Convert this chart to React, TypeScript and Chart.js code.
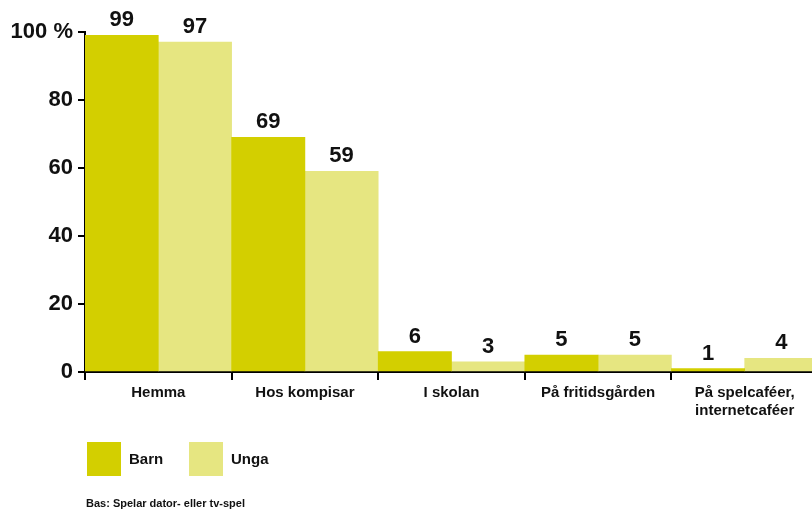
import React, { useEffect, useRef } from "react";
import { Chart, registerables } from "chart.js";

Chart.register(...registerables);

const categories: (string | string[])[] = [
  "Hemma",
  "Hos kompisar",
  "I skolan",
  "På fritidsgården",
  ["På spelcaféer,", "internetcaféer"],
];
const barn = [99, 69, 6, 5, 1];
const unga = [97, 59, 3, 5, 4];
const yTicks = [0, 20, 40, 60, 80, 100];
const seriesNames = ["Barn", "Unga"];
const colors = ["#d3cf00", "#e6e681"];
const footnote = "Bas: Spelar dator- eller tv-spel";

const FONT = "'Liberation Sans', Arial, sans-serif";

const valueLabels = {
  id: "valueLabels",
  afterDatasetsDraw(chart: any) {
    const ctx = chart.ctx;
    ctx.save();
    ctx.font = `bold 22px ${FONT}`;
    ctx.fillStyle = "#111";
    ctx.textAlign = "center";
    ctx.textBaseline = "bottom";
    chart.data.datasets.forEach((ds: any, i: number) => {
      const meta = chart.getDatasetMeta(i);
      meta.data.forEach((bar: any, j: number) => {
        ctx.fillText(String(ds.data[j]), bar.x, bar.y - 4);
      });
    });
    ctx.restore();
  },
};

export default function App() {
  const ref = useRef<HTMLCanvasElement>(null);
  useEffect(() => {
    if (!ref.current) return;
    const chart = new Chart(ref.current, {
      type: "bar",
      data: {
        labels: categories,
        datasets: [
          { label: seriesNames[0], data: barn, backgroundColor: colors[0], categoryPercentage: 1, barPercentage: 1 },
          { label: seriesNames[1], data: unga, backgroundColor: colors[1], categoryPercentage: 1, barPercentage: 1 },
        ],
      },
      options: {
        animation: false,
        responsive: false,
        maintainAspectRatio: false,
        layout: { padding: { top: 32, right: 12, left: 0, bottom: 0 } },
        plugins: { legend: { display: false }, tooltip: { enabled: false } },
        scales: {
          x: {
            offset: true,
            grid: { offset: true, drawOnChartArea: false, drawTicks: true, tickLength: 8, color: "#000", lineWidth: 2 },
            border: { color: "#000", width: 2 },
            ticks: { color: "#111", font: { family: FONT, size: 15, weight: "bold" }, padding: 4, maxRotation: 0, autoSkip: false },
            afterFit: (s: any) => { s.height = 137; },
          },
          y: {
            min: 0,
            max: 100,
            afterBuildTicks: (s: any) => { s.ticks = yTicks.map((v) => ({ value: v })); },
            grid: { drawOnChartArea: false, drawTicks: true, tickLength: 7, color: "#000", lineWidth: 2 },
            border: { color: "#000", width: 2 },
            ticks: {
              color: "#111",
              font: { family: FONT, size: 22, weight: "bold" },
              padding: 5,
              callback: (v: any) => (v === 100 ? "100 %" : String(v)),
            },
            afterFit: (s: any) => { s.width = 85; },
          },
        },
      },
      plugins: [valueLabels],
    });
    return () => chart.destroy();
  }, []);

  const legendText: React.CSSProperties = {
    position: "absolute",
    fontFamily: FONT,
    fontWeight: "bold",
    fontSize: 15,
    color: "#111",
    lineHeight: "34px",
  };

  return (
    <div style={{ position: "fixed", left: 0, top: 0, width: 830, height: 509, overflow: "hidden", background: "#fff" }}>
      <canvas ref={ref} width={830} height={509} style={{ position: "absolute", left: 0, top: 0, width: 830, height: 509 }} />
      <div style={{ position: "absolute", left: 87, top: 442, width: 34, height: 34, background: colors[0] }} />
      <div style={{ ...legendText, left: 129, top: 442 }}>{seriesNames[0]}</div>
      <div style={{ position: "absolute", left: 189, top: 442, width: 34, height: 34, background: colors[1] }} />
      <div style={{ ...legendText, left: 231, top: 442 }}>{seriesNames[1]}</div>
      <div style={{ position: "absolute", left: 86, top: 497, fontFamily: FONT, fontWeight: "bold", fontSize: 11, color: "#111", whiteSpace: "nowrap" }}>
        {footnote}
      </div>
    </div>
  );
}
